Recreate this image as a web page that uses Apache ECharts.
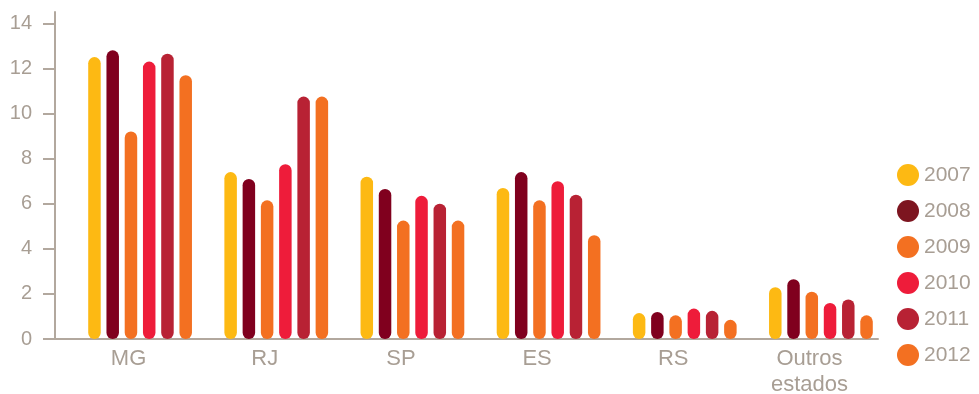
<!DOCTYPE html>
<html>
<head>
<meta charset="utf-8">
<script src="https://cdn.jsdelivr.net/npm/echarts@6/dist/echarts.min.js"></script>
<style>
  html, body { margin: 0; padding: 0; background: #ffffff; }
  #chart { width: 979px; height: 394px; }
</style>
</head>
<body>
<div id="chart"></div>
<script>
// Categories (states) and yearly values
const categories = ['MG', 'RJ', 'SP', 'ES', 'RS', 'Outros\nestados'];
const years = ['2007', '2008', '2009', '2010', '2011', '2012'];
const v2007 = [12.5, 7.4, 7.2, 6.7, 1.15, 2.3];
const v2008 = [12.8, 7.1, 6.65, 7.4, 1.2, 2.65];
const v2009 = [9.2, 6.15, 5.25, 6.15, 1.05, 2.1];
const v2010 = [12.3, 7.75, 6.35, 7.0, 1.35, 1.6];
const v2011 = [12.65, 10.75, 6.0, 6.4, 1.25, 1.75];
const v2012 = [11.7, 10.75, 5.25, 4.6, 0.85, 1.05];
const yTicks = [0, 2, 4, 6, 8, 10, 12, 14];

const seriesValues = [v2007, v2008, v2009, v2010, v2011, v2012];
const barColors = ['#FDB913', '#80001E', '#F37021', '#EE1C3A', '#B82234', '#F37021'];
const legendColors = ['#FDB913', '#7D1520', '#F37021', '#EE1C3A', '#B82234', '#F37021'];

const textColor = '#A89E94';
const lineColor = '#B2A89E';
const fontFamily = '"Liberation Sans", Arial, sans-serif';

const chart = echarts.init(document.getElementById('chart'), null, { renderer: 'canvas' });

chart.setOption({
  animation: false,
  backgroundColor: '#ffffff',
  textStyle: { fontFamily: fontFamily },
  legend: {
    orient: 'vertical',
    left: 897,
    top: 164,
    padding: 0,
    icon: 'circle',
    itemWidth: 22,
    itemHeight: 22,
    itemGap: 14,
    itemTextGap: 11,
    textStyle: { color: textColor, fontSize: 21, fontFamily: fontFamily },
    data: years.map((y, i) => ({ name: y, itemStyle: { color: legendColors[i] } }))
  },
  grid: [
    // bars
    { left: 72, right: 90, top: 12, bottom: 55, containLabel: false, outerBoundsMode: 'none' },
    // axis frame
    { left: 55, right: 101, top: 12, bottom: 55, containLabel: false, outerBoundsMode: 'none' }
  ],
  xAxis: [
    {
      type: 'category',
      gridIndex: 0,
      data: categories,
      axisLine: { show: false },
      axisTick: { show: false },
      axisLabel: {
        color: textColor,
        fontSize: 22,
        lineHeight: 26,
        margin: 7,
        padding: [0, 23, 0, 0],
        fontFamily: fontFamily
      },
      splitLine: { show: false }
    },
    {
      type: 'value',
      gridIndex: 1,
      min: 0,
      max: 1,
      axisLine: { show: true, lineStyle: { color: lineColor, width: 2 } },
      axisTick: { show: false },
      axisLabel: { show: false },
      splitLine: { show: false }
    }
  ],
  yAxis: [
    {
      type: 'value',
      gridIndex: 0,
      min: 0,
      max: 14.5,
      show: false,
      splitLine: { show: false }
    },
    {
      type: 'value',
      gridIndex: 1,
      min: 0,
      max: 14.5,
      axisLine: { show: true, lineStyle: { color: lineColor, width: 2 } },
      axisTick: {
        show: true,
        inside: false,
        length: 12,
        customValues: yTicks,
        lineStyle: { color: lineColor, width: 2 }
      },
      axisLabel: {
        color: textColor,
        fontSize: 20,
        margin: 23,
        customValues: yTicks,
        fontFamily: fontFamily
      },
      splitLine: { show: false }
    }
  ],
  series: years.map((y, i) => ({
    name: y,
    type: 'bar',
    xAxisIndex: 0,
    yAxisIndex: 0,
    data: seriesValues[i],
    barWidth: 12.5,
    barGap: '46%',
    itemStyle: { color: barColors[i], borderRadius: 6.25 }
  }))
});
</script>
</body>
</html>
